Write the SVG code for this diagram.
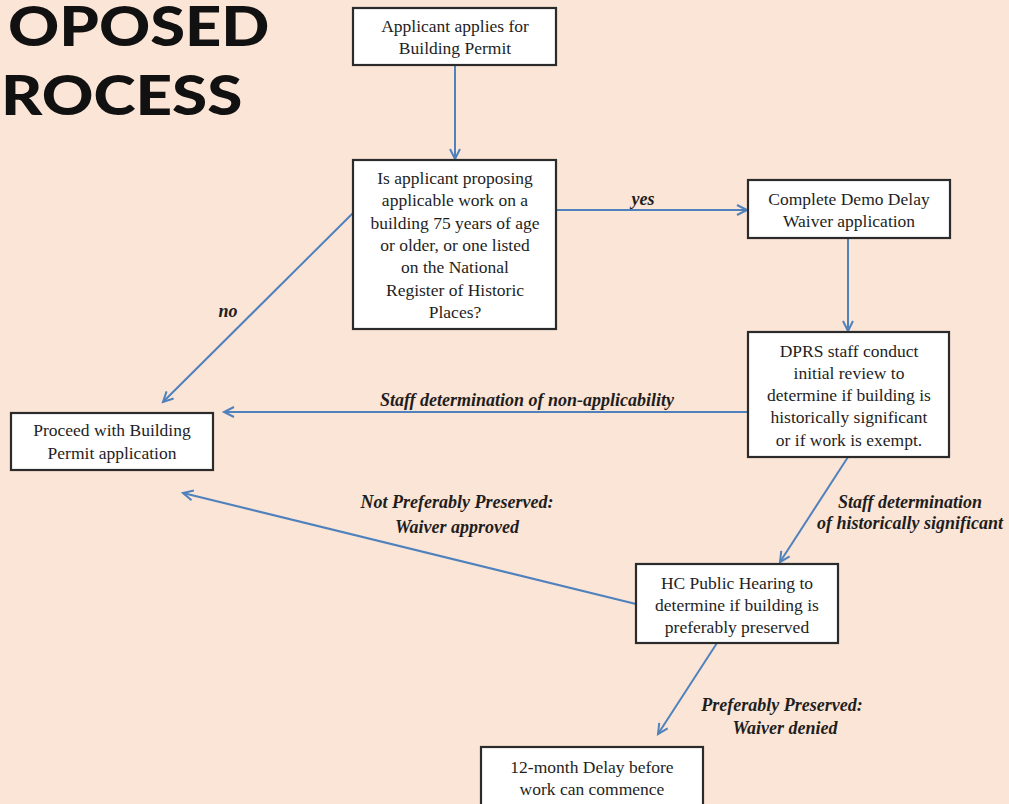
<svg xmlns="http://www.w3.org/2000/svg" width="1009" height="804" viewBox="0 0 1009 804">
<style>
.bg{fill:#FBE5D6}
.box{fill:#FFFFFF;stroke:#2B2B2B;stroke-width:2.2}
.t{font-family:"Liberation Serif","DejaVu Serif",serif;font-size:17.5px;fill:#1E1E1E;text-anchor:middle}
.lbl{font-family:"Liberation Serif","DejaVu Serif",serif;font-size:18px;font-style:italic;font-weight:bold;fill:#1E1E1E;text-anchor:middle}
.title{font-family:Lato,"Open Sans",sans-serif;font-weight:900;font-size:55px;fill:#111111}
.c{stroke:#4F81BD;stroke-width:2;fill:none;marker-end:url(#ah)}
</style>
<defs>
<marker id="ah" markerUnits="userSpaceOnUse" markerWidth="14" markerHeight="14" refX="11" refY="6" orient="auto" viewBox="0 0 14 12">
<path d="M1,1 L11,6 L1,11" fill="none" stroke="#4F81BD" stroke-width="2"/>
</marker>
</defs>
<rect class="bg" x="0" y="0" width="1009" height="804"/>
<g id="title">
<text class="title" transform="translate(8,46) scale(1.15,1)">OPOSED</text>
<text class="title" transform="translate(1,115) scale(1.16,1)">ROCESS</text>
</g>
<g id="connectors">
<line class="c" x1="455" y1="65" x2="455" y2="159"/>
<line class="c" x1="557" y1="210" x2="747" y2="210"/>
<line class="c" x1="353" y1="213" x2="163" y2="402"/>
<line class="c" x1="848" y1="238" x2="848" y2="331"/>
<line class="c" x1="748" y1="412" x2="224" y2="412"/>
<line class="c" x1="848" y1="457" x2="780" y2="562"/>
<line class="c" x1="636" y1="604" x2="183" y2="493"/>
<line class="c" x1="717" y1="643" x2="658" y2="734"/>
<text class="lbl" x="643" y="205">yes</text>
<text class="lbl" x="228" y="317" font-weight="normal">no</text>
<text class="lbl" x="527" y="406">Staff determination of non-applicability</text>
<text class="lbl" x="910" y="508">Staff determination</text>
<text class="lbl" x="910" y="529">of historically significant</text>
<text class="lbl" x="457" y="508">Not Preferably Preserved:</text>
<text class="lbl" x="457" y="533">Waiver approved</text>
<text class="lbl" x="782" y="711">Preferably Preserved:</text>
<text class="lbl" x="785" y="734">Waiver denied</text>
</g>
<g id="n1">
<rect class="box" x="353" y="8" width="203" height="57"/>
<text class="t" x="455" y="32">Applicant applies for</text>
<text class="t" x="455" y="54">Building Permit</text>
</g>
<g id="n2">
<rect class="box" x="353" y="160" width="203" height="169"/>
<text class="t" x="455" y="184">Is applicant proposing</text>
<text class="t" x="455" y="206">applicable work on a</text>
<text class="t" x="455" y="229">building 75 years of age</text>
<text class="t" x="455" y="251">or older, or one listed</text>
<text class="t" x="455" y="273">on the National</text>
<text class="t" x="455" y="296">Register of Historic</text>
<text class="t" x="455" y="318">Places?</text>
</g>
<g id="n3">
<rect class="box" x="748" y="180" width="202" height="58"/>
<text class="t" x="849" y="205">Complete Demo Delay</text>
<text class="t" x="849" y="227">Waiver application</text>
</g>
<g id="n4">
<rect class="box" x="748" y="332" width="201" height="125"/>
<text class="t" x="849" y="357">DPRS staff conduct</text>
<text class="t" x="849" y="379">initial review to</text>
<text class="t" x="849" y="401">determine if building is</text>
<text class="t" x="849" y="423">historically significant</text>
<text class="t" x="849" y="446">or if work is exempt.</text>
</g>
<g id="n5">
<rect class="box" x="11" y="413" width="202" height="57"/>
<text class="t" x="112" y="436">Proceed with Building</text>
<text class="t" x="112" y="459">Permit application</text>
</g>
<g id="n6">
<rect class="box" x="636" y="564" width="202" height="79"/>
<text class="t" x="737" y="589">HC Public Hearing to</text>
<text class="t" x="737" y="611">determine if building is</text>
<text class="t" x="737" y="633">preferably preserved</text>
</g>
<g id="n7">
<rect class="box" x="481" y="747" width="222" height="70"/>
<text class="t" x="592" y="773">12-month Delay before</text>
<text class="t" x="592" y="795">work can commence</text>
</g>
</svg>
